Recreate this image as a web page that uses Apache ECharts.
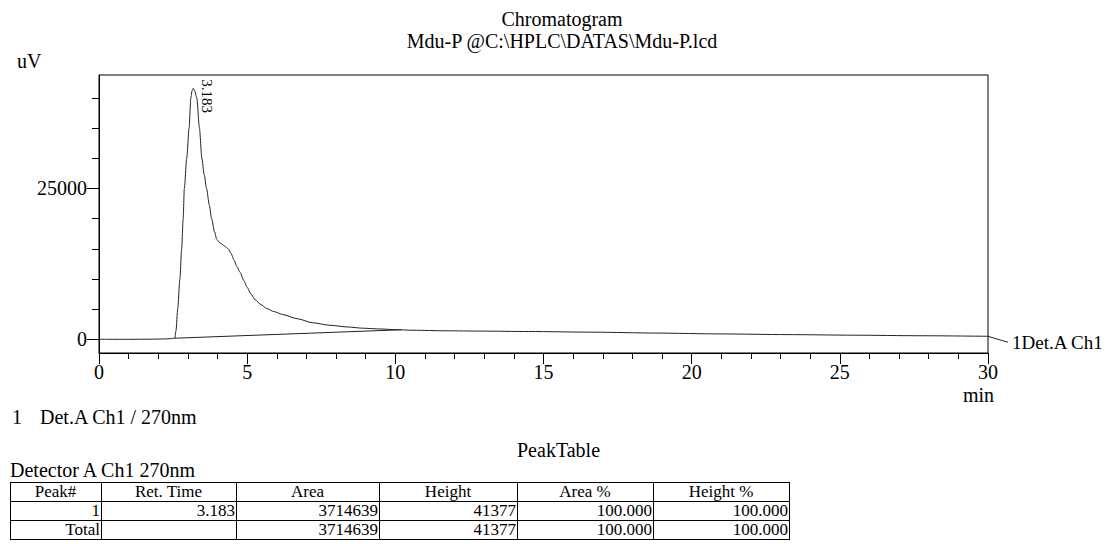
<!DOCTYPE html>
<html>
<head>
<meta charset="utf-8">
<script src="https://cdn.jsdelivr.net/npm/echarts@6/dist/echarts.min.js"></script>
<style>
  html, body { margin: 0; padding: 0; background: #fff; }
  #wrap { position: relative; width: 1107px; height: 544px; overflow: hidden; font-family: "Liberation Serif", "DejaVu Serif", serif; color: #000; }
  #chart { position: absolute; left: 0; top: 0; width: 1107px; height: 544px; }
  .txt { position: absolute; font-size: 20px; line-height: 22px; white-space: pre; }
  table { position: absolute; left: 10px; top: 482px; border-collapse: collapse; table-layout: fixed; width: 780px; font-size: 17px; }
  td { border: 1px solid #000; padding: 0 1px 0 0; height: 18px; line-height: 18px; text-align: right; white-space: nowrap; }
  tr.hd td { text-align: center; }
</style>
</head>
<body>
<div id="wrap">
  <div id="chart"></div>
  <div class="txt" style="left:12px; top:406px;">1</div>
  <div class="txt" style="left:40px; top:406px;">Det.A Ch1 / 270nm</div>
  <div class="txt" style="left:517px; top:439px;">PeakTable</div>
  <div class="txt" style="left:10px; top:459px;">Detector A Ch1 270nm</div>
  <table id="tbl"></table>
</div>
<script>
// ---- data ----
const times = [0, 1, 1.8, 2.2, 2.45, 2.56, 2.6, 2.655, 2.73, 2.79, 2.84, 2.88, 2.96, 3.04, 3.1, 3.14, 3.183, 3.23, 3.3, 3.39, 3.47, 3.55, 3.63, 3.72, 3.8, 3.9, 3.97, 4.05, 4.14, 4.25, 4.36, 4.45, 4.55, 4.65, 4.76, 4.88, 5.0, 5.13, 5.26, 5.45, 5.66, 5.9, 6.2, 6.7, 7.2, 7.8, 8.4, 8.9, 9.5, 10.0, 10.6, 11.7, 12.9, 14.5, 16.7, 18.8, 21.0, 23.2, 25.5, 27.7, 30.0];
const signal = [0, 0, 20, 60, 120, 200, 1500, 5000, 10000, 15000, 20000, 25000, 30000, 35000, 40000, 41200, 41600, 41200, 40000, 35000, 30000, 27300, 25000, 22300, 20000, 17800, 16600, 16100, 15800, 15400, 15000, 14300, 13200, 12100, 11100, 9800, 8600, 7500, 6600, 5800, 5100, 4600, 4100, 3400, 2750, 2320, 2040, 1840, 1710, 1600, 1500, 1410, 1360, 1290, 1180, 1030, 890, 780, 680, 590, 500];
const baselineTimes = [2.56, 10.2];
const baselineValues = [180, 1580];
const peakTimes = [3.183];
const peakValues = [41600];
const peakLabels = ['3.183'];
const yMajorTicks = [0, 25000];
const yMinorTicks = [5000, 10000, 15000, 20000, 30000, 35000, 40000];
const tableHeader = ['Peak#', 'Ret. Time', 'Area', 'Height', 'Area %', 'Height %'];
const tableRows = [
  ['1', '3.183', '3714639', '41377', '100.000', '100.000'],
  ['Total', '', '3714639', '41377', '100.000', '100.000']
];
const colWidths = [91, 135, 143, 138, 136, 136];

// ---- table ----
const tbl = document.getElementById('tbl');
let html = '<colgroup>' + colWidths.map(w => `<col style="width:${w}px">`).join('') + '</colgroup>';
html += '<tr class="hd">' + tableHeader.map(h => `<td>${h}</td>`).join('') + '</tr>';
tableRows.forEach(r => { html += '<tr>' + r.map(c => `<td>${c}</td>`).join('') + '</tr>'; });
tbl.innerHTML = html;

// ---- chart ----
const FONT = '"Liberation Serif", "DejaVu Serif", serif';
const FS = 20;
const chart = echarts.init(document.getElementById('chart'), null, { renderer: 'svg' });
const yMin = -2270, yMax = 43800;
const line = { color: '#222', width: 1 };
const plain = v => String(v);
chart.setOption({
  animation: false,
  backgroundColor: '#fff',
  title: [
    { text: 'Chromatogram\nMdu-P @C:\\HPLC\\DATAS\\Mdu-P.lcd', left: 557, top: 3, textAlign: 'center',
      textStyle: { fontFamily: FONT, fontSize: FS, fontWeight: 'normal', color: '#000', lineHeight: 22 } },
    { text: 'uV', left: 12, top: 46, textStyle: { fontFamily: FONT, fontSize: FS, fontWeight: 'normal', color: '#000' } },
    { text: 'min', left: 958, top: 380, textStyle: { fontFamily: FONT, fontSize: FS, fontWeight: 'normal', color: '#000' } }
  ],
  grid: { left: 99, right: 119, top: 75, bottom: 191, show: true, borderColor: '#000', borderWidth: 1 },
  xAxis: {
    type: 'value', min: 0, max: 30, interval: 5,
    axisLine: { onZero: false, lineStyle: { color: '#000', width: 1 } },
    axisTick: { length: 11, lineStyle: { color: '#000' } },
    minorTick: { show: true, splitNumber: 5, length: 6, lineStyle: { color: '#000' } },
    splitLine: { show: false },
    axisLabel: { color: '#000', fontFamily: FONT, fontSize: FS, margin: 9, formatter: plain }
  },
  yAxis: [
    {
      type: 'value', min: yMin, max: yMax,
      axisLine: { show: true, onZero: false, lineStyle: { color: '#000' } },
      axisTick: { show: true, length: 12, customValues: yMajorTicks, lineStyle: { color: '#000' } },
      axisLabel: { show: true, customValues: yMajorTicks, color: '#000', fontFamily: FONT, fontSize: FS, margin: 12, formatter: plain },
      splitLine: { show: false }
    },
    {
      type: 'value', min: yMin, max: yMax, position: 'left',
      axisLine: { show: false, onZero: false },
      axisTick: { show: true, length: 7, customValues: yMinorTicks, lineStyle: { color: '#000' } },
      axisLabel: { show: false },
      splitLine: { show: false }
    }
  ],
  series: [
    {
      type: 'line', name: 'Det.A Ch1', showSymbol: false, symbol: 'none',
      smooth: 0.25, smoothMonotone: 'x',
      lineStyle: line,
      data: times.map((t, i) => [t, signal[i]]),
      markPoint: {
        symbol: 'circle', symbolSize: 0,
        label: { show: true, formatter: '{b}', rotate: -90, align: 'left', verticalAlign: 'middle', position: 'inside', offset: [-9, -14], color: '#000', fontFamily: FONT, fontSize: 15 },
        data: peakTimes.map((t, i) => ({ name: peakLabels[i], coord: [t, peakValues[i]] }))
      }
    },
    {
      type: 'line', name: 'baseline', showSymbol: false, symbol: 'none',
      lineStyle: line,
      data: baselineTimes.map((t, i) => [t, baselineValues[i]])
    }
  ]
});

// end-of-trace label with leader line, placed via the axis scales
const endPt = chart.convertToPixel({ seriesIndex: 0 }, [times[times.length - 1], signal[signal.length - 1]]);
chart.setOption({
  graphic: [
    { type: 'line', shape: { x1: endPt[0], y1: endPt[1], x2: endPt[0] + 20, y2: endPt[1] + 6 }, style: { stroke: '#222', lineWidth: 1 } },
    { type: 'text', x: endPt[0] + 24, y: endPt[1] + 6, style: { text: '1Det.A Ch1', fill: '#000', font: '19px ' + FONT, verticalAlign: 'middle', align: 'left' } }
  ]
});
</script>
</body>
</html>
